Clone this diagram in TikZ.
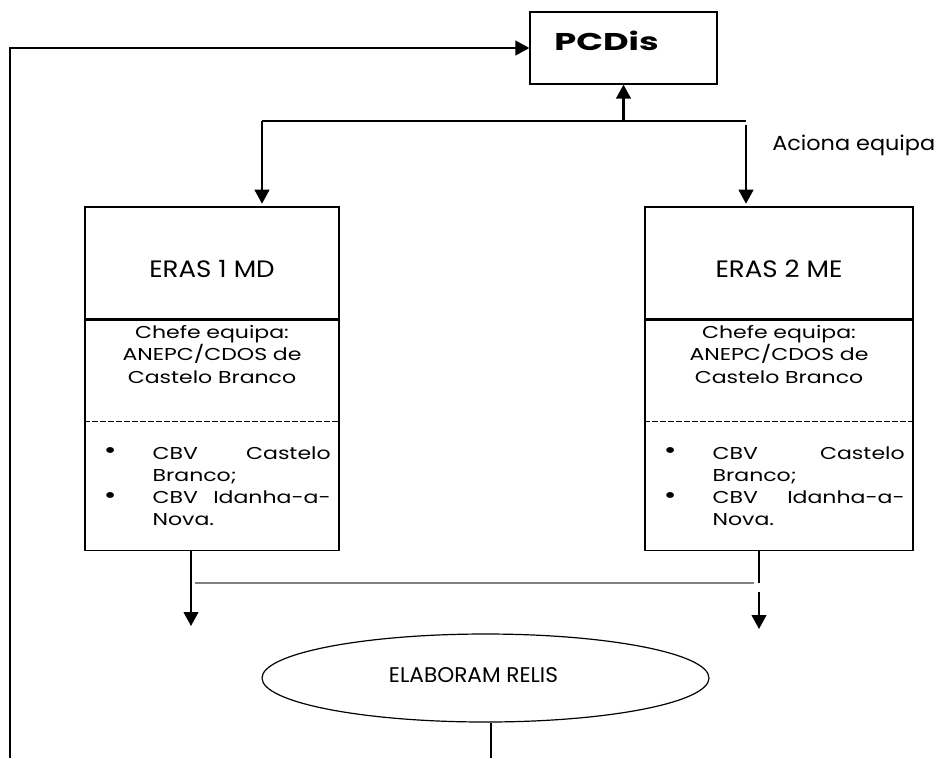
\documentclass[tikz,border=0pt]{standalone}
\usepackage{fontspec}
\setmainfont{Poppins}[FakeStretch=1.1]
\newfontfamily\larga{Poppins}[FakeStretch=1.28]
\newfontfamily\negrito{Poppins}[FakeStretch=1.45]
\newfontfamily\estreita{Poppins}
\usetikzlibrary{arrows.meta, positioning, shapes.geometric, calc}

\newcommand{\marca}{\leavevmode\llap{\raisebox{0.05ex}{\scalebox{1.4}{\textbullet}}\hspace{27pt}}}

\tikzset{
  caixa/.style={draw, line width=0.9pt, inner sep=0pt},
  cabeca/.style={caixa, minimum height=84pt, font=\fontsize{17.8}{21}\selectfont, text height=22pt, text depth=0pt},
  texto/.style={inner sep=0pt, font=\larga\fontsize{12.9}{16.6}\selectfont},
  seta/.style={-{Triangle[length=10.5pt,width=11pt]}, line width=1.6pt},
  fina/.style={line width=1pt},
  tracejado/.style={dash pattern=on 4pt off 2pt, line width=0.6pt},
}

\begin{document}
\begin{tikzpicture}[x=0.75pt, y=-0.75pt, node distance=0pt]
        \useasboundingbox (0,0) rectangle (938,758);

        \node[caixa, minimum width=140.25pt, minimum height=54pt, font=\negrito\bfseries\fontsize{18.2}{21}\selectfont, text height=12pt, text depth=9pt] (pcdis) at (623.5,48) {PCDis\hspace*{25.5pt}};
        \node[inner sep=0pt, anchor=base west, font=\fontsize{15.25}{18}\selectfont] (aciona) at (772,150) {Aciona equipa};

        % equipa 1
        \node[cabeca, minimum width=190.5pt] (eras1) at (212,263) {ERAS 1 MD};
        \node[caixa, minimum width=190.5pt, minimum height=172.5pt, below=of eras1] (corpo1) {};
        \node[texto, text width=180pt, align=center, below=4.3pt of corpo1.north] (chefe1) {Chefe equipa:\\ ANEPC/CDOS de\\ Castelo Branco};
        \node[texto, text width=133.5pt, below right=95pt and 51pt of corpo1.north west] (lista1) {\marca CBV\hfill Castelo\\ Branco;\\ \marca CBV\hfill Idanha-a-\\ Nova.};

        % equipa 2
        \node[cabeca, minimum width=201pt] (eras2) at (779,263) {ERAS 2 ME};
        \node[caixa, minimum width=201pt, minimum height=172.5pt, below=of eras2] (corpo2) {};
        \node[texto, text width=190pt, align=center, below=4.3pt of corpo2.north] (chefe2) {Chefe equipa:\\ ANEPC/CDOS de\\ Castelo Branco};
        \node[texto, text width=144pt, below right=95pt and 51pt of corpo2.north west] (lista2) {\marca CBV\hfill Castelo\\ Branco;\\ \marca CBV\hfill Idanha-a-\\ Nova.};

        \draw[tracejado] ($(corpo1.north west)+(0,102)$) -- ($(corpo1.north east)+(0,102)$);
        \draw[tracejado] ($(corpo2.north west)+(0,102)$) -- ($(corpo2.north east)+(0,102)$);

        \node[ellipse, caixa, minimum width=335.25pt, minimum height=66pt, text height=11.25pt, text depth=5.25pt] (relis) at (485.5,678) {\estreita\resizebox{126.75pt}{11.25pt}{ELABORAM RELIS}\hspace*{18pt}};

        % ligacoes
        \coordinate (esq) at (262,121);
        \coordinate (dir) at (746,121);
        \coordinate (meio) at (pcdis.south |- esq);
        \coordinate (fim1) at (191,626);
        \coordinate (fim2) at (759,629);
        \coordinate (volta) at (10,758);
        \coordinate (base) at (491,758);

        \draw[fina] (esq) -- (dir);
        \draw[seta] (meio) -- (pcdis);
        \draw[seta, shorten >=2pt] (esq) -- (esq |- eras1.north);
        \draw[seta, shorten <=3pt, shorten >=2pt] (dir) -- (dir |- eras2.north);

        \draw[seta] (fim1 |- corpo1.south) -- (fim1);
        \draw[line width=1.6pt] (fim2 |- corpo2.south) -- ($(fim2)+(0,-46)$);
        \draw[seta] ($(fim2)+(0,-37)$) -- (fim2);
        \draw[fina, gray] (195,583) -- (754,583);

        \draw[fina] (relis.south -| base) -- (base);
        \draw[seta] (volta) |- (pcdis.west);
\end{tikzpicture}
\end{document}
